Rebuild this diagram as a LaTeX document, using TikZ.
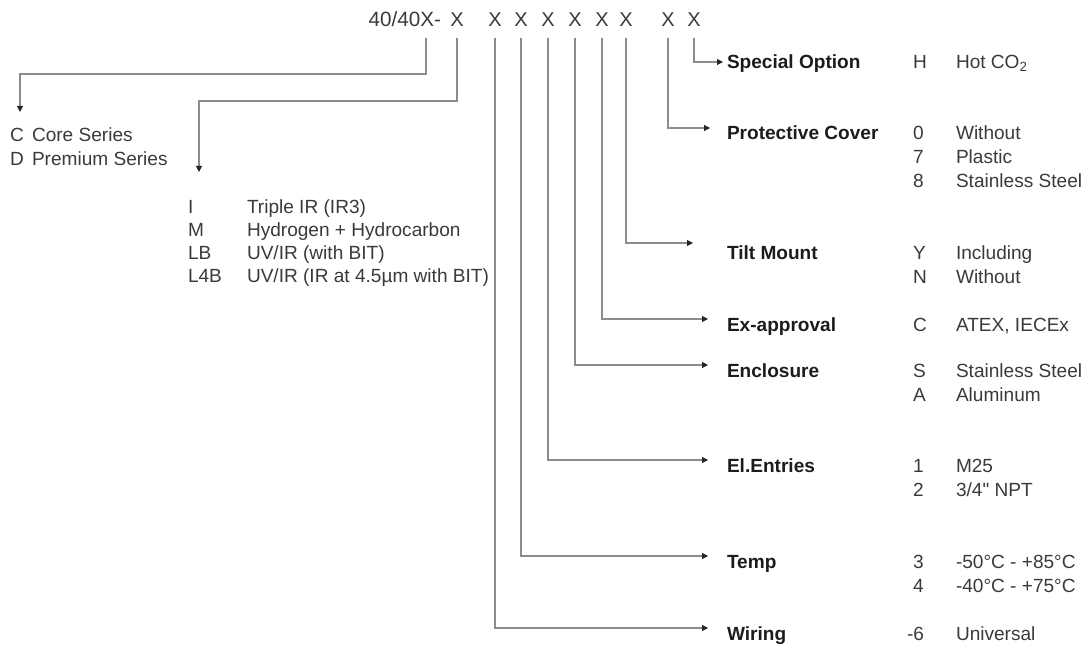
\documentclass[tikz,border=0pt]{standalone}
\usepackage{fontspec}
\setmainfont{Liberation Sans}
\newfontfamily\rawfont{Liberation Sans}[Ligatures=TeXOff]
\usetikzlibrary{arrows.meta}
\definecolor{txt}{HTML}{3A3A3A}
\definecolor{lblc}{HTML}{1C1C1C}
\definecolor{ln}{HTML}{8C8C8C}
\begin{document}
\begin{tikzpicture}[x=0.75pt,y=-0.75pt,
  every node/.style={inner sep=0pt, outer sep=0pt, font=\fontsize{14.3}{18}\selectfont, text=txt},
  hd/.style={anchor=base, font=\fontsize{15}{18}\selectfont},
  lbl/.style={anchor=base west, font=\fontsize{14.3}{18}\selectfont\bfseries, text=lblc},
  cd/.style={anchor=base west},
  conn/.style={draw=ln, line width=0.8pt, -{Triangle[length=4.5pt,width=4.5pt,color=black!85]}},
]
\useasboundingbox (0,0) rectangle (1089,645);

% header
\node[hd, anchor=base east] (h0) at (441,27) {\fontsize{15.5}{18}\selectfont 40/40X-};
\node[hd] (x1) at (457,27) {X};
\node[hd] (x2) at (495,27) {X};
\node[hd] (x3) at (521,27) {X};
\node[hd] (x4) at (548,27) {X};
\node[hd] (x5) at (575,27) {X};
\node[hd] (x6) at (602,27) {X};
\node[hd] (x7) at (626,27) {X};
\node[hd] (x8) at (668,27) {X};
\node[hd] (x9) at (694,27) {X};

% left lists
\node[cd] (cC) at (10,142) {C};
\node[cd] (tC) at (32,142) {Core Series};
\node[cd] (cD) at (10,166) {D};
\node[cd] (tD) at (32,166) {Premium Series};

\node[cd] (cI) at (188,214) {I};
\node[cd] (tI) at (247,214) {Triple IR (IR3)};
\node[cd] (cM) at (188,237) {M};
\node[cd] (tM) at (247,237) {Hydrogen + Hydrocarbon};
\node[cd] (cLB) at (188,260) {LB};
\node[cd] (tLB) at (247,260) {UV/IR (with BIT)};
\node[cd] (cL4B) at (188,283) {L4B};
\node[cd] (tL4B) at (247,283) {UV/IR (IR at 4.5µm with BIT)};

% right labels
\node[lbl] (lSO) at (727,69) {Special Option};
\node[lbl] (lPC) at (727,140) {Protective Cover};
\node[lbl] (lTM) at (727,260) {Tilt Mount};
\node[lbl] (lEx) at (727,331) {Ex-approval};
\node[lbl] (lEn) at (727,378) {Enclosure};
\node[lbl] (lEl) at (727,472) {El.Entries};
\node[lbl] (lTe) at (727,568) {Temp};
\node[lbl] (lWi) at (727,640) {Wiring};

% codes and values
\node[cd] at (913,69) {H};   \node[cd] at (956,69) {Hot CO\textsubscript{2}};
\node[cd] at (913,140) {0};  \node[cd] at (956,140) {Without};
\node[cd] at (913,164) {7};  \node[cd] at (956,164) {Plastic};
\node[cd] at (913,188) {8};  \node[cd] at (956,188) {Stainless Steel};
\node[cd] at (913,260) {Y};  \node[cd] at (956,260) {Including};
\node[cd] at (913,284) {N};  \node[cd] at (956,284) {Without};
\node[cd] at (913,331) {C};  \node[cd] at (956,331) {ATEX, IECEx};
\node[cd] at (913,378) {S};  \node[cd] at (956,378) {Stainless Steel};
\node[cd] at (913,402) {A};  \node[cd] at (956,402) {Aluminum};
\node[cd] at (913,472) {1};  \node[cd] at (956,472) {M25};
\node[cd] at (913,496) {2};  \node[cd] at (956,496) {\rawfont 3/4" NPT};
\node[cd] at (913,568) {3};  \node[cd] at (956,568) {-50°C - +85°C};
\node[cd] at (913,592) {4};  \node[cd] at (956,592) {-40°C - +75°C};
\node[cd] at (907,640) {-6}; \node[cd] at (956,640) {Universal};

% arrow tips and corners
\coordinate (kC) at (20,74);   \coordinate (aC) at (20,112);
\coordinate (kI) at (199,101); \coordinate (aI) at (199,172);
\coordinate (aSO) at (723,62);
\coordinate (aPC) at (710,128);
\coordinate (aTM) at (693,243);
\coordinate (aEx) at (708,319);
\coordinate (aEn) at (708,365);
\coordinate (aEl) at (708,460);
\coordinate (aTe) at (708,556);
\coordinate (aWi) at (708,628);

% connectors
\draw[conn] ([xshift=-11.25pt,yshift=-8.25pt]h0.south east) |- (kC) -- (aC);
\draw[conn] ([yshift=-8.25pt]x1.south) |- (kI) -- (aI);
\draw[conn] ([yshift=-8.25pt]x2.south) |- (aWi);
\draw[conn] ([yshift=-8.25pt]x3.south) |- (aTe);
\draw[conn] ([yshift=-8.25pt]x4.south) |- (aEl);
\draw[conn] ([yshift=-8.25pt]x5.south) |- (aEn);
\draw[conn] ([yshift=-8.25pt]x6.south) |- (aEx);
\draw[conn] ([yshift=-8.25pt]x7.south) |- (aTM);
\draw[conn] ([yshift=-8.25pt]x8.south) |- (aPC);
\draw[conn] ([yshift=-8.25pt]x9.south) |- (aSO);
\end{tikzpicture}
\end{document}
